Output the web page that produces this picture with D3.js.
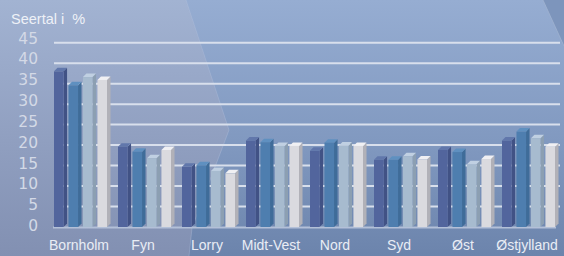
<!DOCTYPE html>
<html><head><meta charset="utf-8">
<script src="https://cdn.jsdelivr.net/npm/d3@7"></script>
<style>html,body{margin:0;padding:0;background:#8098c0;}svg{display:block;}</style>
</head><body>
<script>
const categories = ["Bornholm","Fyn","Lorry","Midt-Vest","Nord","Syd","Øst","Østjylland"];
const seriesNames = ["S1","S2","S3","S4"];
const s1 = [38.0, 19.6, 14.7, 21.1, 18.6, 16.4, 18.8, 21.1];
const s2 = [34.6, 18.4, 15.1, 20.7, 20.6, 16.4, 18.3, 23.3];
const s3 = [36.6, 16.8, 13.7, 19.8, 19.9, 17.3, 15.3, 21.7];
const s4 = [35.9, 18.8, 13.1, 19.8, 19.8, 16.5, 16.6, 19.6];
const yTicks = [0,5,10,15,20,25,30,35,40,45];
const yTitle = "Seertal i  %";

const seriesValues = [s1,s2,s3,s4];
const colors = [
  {front:"#52659d", side:"#415285", top:"#6177ab"},
  {front:"#4e7eaf", side:"#3f6c99", top:"#5f90c0"},
  {front:"#a7bbcf", side:"#8c9fb2", top:"#c0d0e2"},
  {front:"#dadadf", side:"#b1b1b8", top:"#f0f0f3"}
];

const W=564,H=256;
const svg=d3.select("body").append("svg").attr("width",W).attr("height",H);
const defs=svg.append("defs");
const g1=defs.append("linearGradient").attr("id","bgR").attr("x1",0).attr("y1",0).attr("x2",0).attr("y2",1);
g1.append("stop").attr("offset","0%").attr("stop-color","#96add2");
g1.append("stop").attr("offset","55%").attr("stop-color","#8199c0");
g1.append("stop").attr("offset","100%").attr("stop-color","#6c84ac");
const g2=defs.append("linearGradient").attr("id","bgL").attr("x1",0).attr("y1",0).attr("x2",0).attr("y2",1);
g2.append("stop").attr("offset","0%").attr("stop-color","#a2b3d2");
g2.append("stop").attr("offset","55%").attr("stop-color","#909fc0");
g2.append("stop").attr("offset","100%").attr("stop-color","#8290b2");

svg.append("rect").attr("width",W).attr("height",H).attr("fill","url(#bgR)");
svg.append("path").attr("d","M0,0 L186,0 L229,130 L192,228 L189,256 L0,256 Z").attr("fill","url(#bgL)");
svg.append("path").attr("d","M186,0 L229,130 L192,228 L189,256").attr("fill","none").attr("stroke","#b4c2dc").attr("stroke-width",0.6).attr("stroke-opacity",0.6);
svg.append("path").attr("d","M543,0 L564,0 L564,46 Z").attr("fill","#7d95bc");
svg.append("path").attr("d","M543,0 L564,46").attr("stroke","#a8b8d4").attr("stroke-width",0.6).attr("fill","none");

const y=d3.scaleLinear().domain([0,45]).range([227,42.7]);
const yl=d3.scaleLinear().domain([0,45]).range([225.5,38]);
const x0=d3.scaleBand().domain(categories).range([54,566]).paddingInner(0).paddingOuter(0);
const x1=d3.scaleBand().domain(seriesNames).range([0,53]).paddingInner(0.34).paddingOuter(0);
const dx=3.5, dy=3.5;

// gridlines
svg.append("g").selectAll("line").data(yTicks.filter(d=>d>0)).join("line")
  .attr("x1",54).attr("x2",560).attr("y1",d=>y(d)).attr("y2",d=>y(d))
  .attr("stroke","#d8dfec").attr("stroke-width",2);
// floor line
svg.append("line").attr("x1",53).attr("x2",556).attr("y1",y(0)+0.5).attr("y2",y(0)+0.5)
  .attr("stroke","#b3c0d8").attr("stroke-width",2.2);

// y labels
svg.append("g").selectAll("text").data(yTicks).join("text")
  .attr("x",38).attr("y",d=>yl(d)).attr("dy","0.36em").attr("text-anchor","end")
  .attr("font-family","DejaVu Sans").attr("font-size",15.5).attr("fill","#d3d9e6")
  .text(d=>d);
svg.append("text").attr("x",11).attr("y",24).attr("font-family","Liberation Sans, Arial")
  .attr("font-size",14.5).attr("fill","#eef1f7").style("white-space","pre").text(yTitle);

// bars
const data=[];
categories.forEach((c,i)=>seriesNames.forEach((s,j)=>data.push({c,s,j,v:seriesValues[j][i]})));
const bars=svg.append("g").selectAll("g").data(data).join("g");
bars.append("path").attr("d",d=>{
  const x=x0(d.c)+x1(d.s), w=x1.bandwidth(), t=y(d.v), b=y(0);
  return `M${x+w},${t} L${x+w+dx},${t-dy} L${x+w+dx},${b-dy} L${x+w},${b} Z`;
}).attr("fill",d=>colors[d.j].side);
bars.append("path").attr("d",d=>{
  const x=x0(d.c)+x1(d.s), w=x1.bandwidth(), t=y(d.v);
  return `M${x},${t} L${x+dx},${t-dy} L${x+w+dx},${t-dy} L${x+w},${t} Z`;
}).attr("fill",d=>colors[d.j].top);
bars.append("rect").attr("x",d=>x0(d.c)+x1(d.s)).attr("y",d=>y(d.v))
  .attr("width",x1.bandwidth()).attr("height",d=>y(0)-y(d.v)).attr("fill",d=>colors[d.j].front);

// category labels
svg.append("g").selectAll("text").data(categories).join("text")
  .attr("x",d=>x0(d)+25).attr("y",250).attr("text-anchor","middle")
  .attr("font-family","Liberation Sans, Arial").attr("font-size",14).attr("fill","#e9edf5")
  .text(d=>d);
</script>
</body></html>
